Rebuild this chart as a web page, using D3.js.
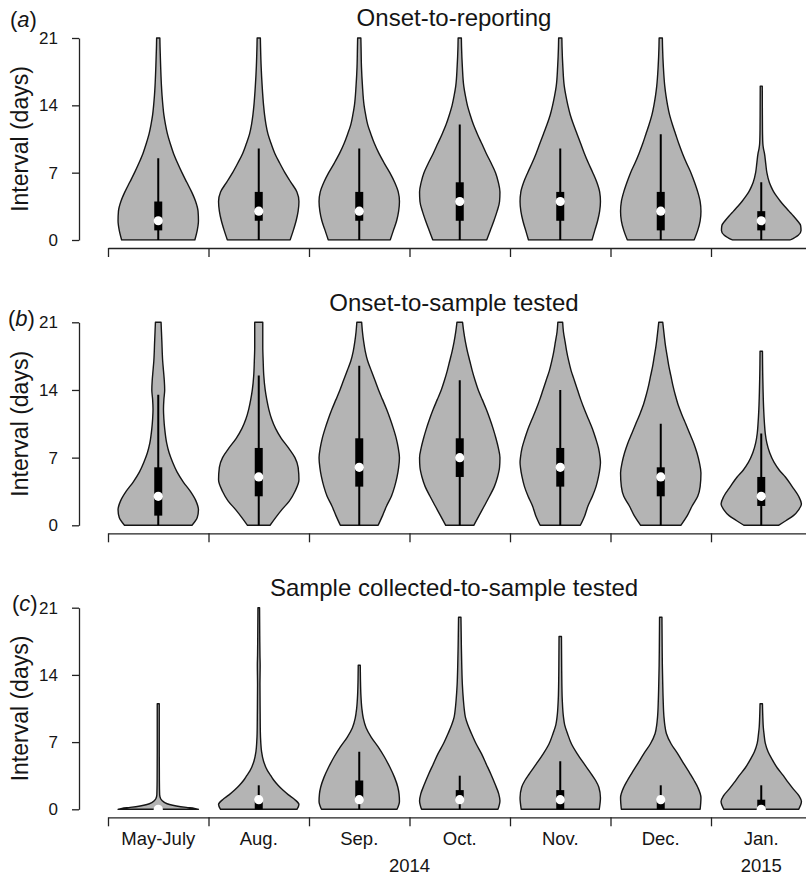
<!DOCTYPE html>
<html><head><meta charset="utf-8">
<script src="https://cdn.jsdelivr.net/npm/d3@7"></script>
<style>
body{margin:0;background:#fff}
svg{display:block}
text{font-family:"Liberation Sans",Arial,Helvetica,sans-serif;fill:#151515}
</style>
</head><body>
<svg id="chart" width="806" height="880"></svg>
<script>
// ---------- data ----------
const categories = ["May-July", "Aug.", "Sep.", "Oct.", "Nov.", "Dec.", "Jan."];
const yearLabels = ["2014", "2015"];
const yearCenters = [3.5, 7];
const yTicks = [0, 7, 14, 21];
const xTicks = [0.5, 1.5, 2.5, 3.5, 4.5, 5.5, 6.5, 7.5];
const panelTitles = ["Onset-to-reporting", "Onset-to-sample tested", "Sample collected-to-sample tested"];
const panelLetters = ["a", "b", "c"];

// violin profiles: [interval (days), relative density width]
const violinsA = [
  [[0,0.91],[1,0.97],[2,1.0],[3,0.99],[4,0.93],[5,0.83],[6,0.71],[7,0.59],[8,0.48],[9,0.38],[10,0.30],[11,0.23],[12,0.18],[13,0.14],[14,0.115],[15,0.095],[16,0.08],[18,0.06],[20,0.045],[21,0.04]],
  [[0,0.78],[1,0.86],[2,0.93],[3,0.98],[4,1.0],[5,0.95],[6,0.80],[7,0.65],[8,0.52],[9,0.40],[10,0.31],[11,0.23],[12,0.18],[13,0.145],[14,0.12],[16,0.085],[18,0.06],[20,0.045],[21,0.04]],
  [[0,0.77],[1,0.85],[2,0.93],[3,0.98],[4,1.0],[5,0.97],[6,0.88],[7,0.76],[8,0.62],[9,0.49],[10,0.38],[11,0.29],[12,0.21],[13,0.16],[14,0.12],[16,0.08],[18,0.055],[20,0.045],[21,0.04]],
  [[0,0.67],[1,0.76],[2,0.85],[3,0.93],[4,0.99],[5,1.0],[6,0.96],[7,0.89],[8,0.78],[9,0.66],[10,0.55],[11,0.44],[12,0.34],[13,0.26],[14,0.19],[15,0.14],[16,0.10],[18,0.065],[20,0.045],[21,0.04]],
  [[0,0.79],[1,0.86],[2,0.93],[3,0.98],[4,1.0],[5,0.98],[6,0.91],[7,0.81],[8,0.70],[9,0.60],[10,0.51],[11,0.42],[12,0.33],[13,0.25],[14,0.19],[15,0.14],[16,0.10],[18,0.065],[20,0.045],[21,0.04]],
  [[0,0.83],[1,0.92],[2,0.98],[3,1.0],[4,0.98],[5,0.92],[6,0.84],[7,0.75],[8,0.64],[9,0.54],[10,0.45],[11,0.37],[12,0.29],[13,0.22],[14,0.17],[15,0.13],[16,0.10],[18,0.065],[20,0.045],[21,0.04]],
  [[0,0.72],[0.5,0.92],[1,0.99],[1.5,0.98],[2,0.9],[2.5,0.8],[3,0.69],[3.5,0.58],[4,0.48],[4.5,0.39],[5,0.31],[5.5,0.25],[6,0.2],[7,0.14],[8,0.11],[9,0.08],[9.5,0.055],[10,0.04],[11,0.032],[13,0.028],[16,0.025]]
];
const violinsB = [
  [[0,0.84],[0.8,0.97],[1.6,1.0],[2.5,0.94],[3.5,0.8],[4.5,0.62],[5.5,0.47],[6.5,0.36],[7.5,0.27],[8.5,0.21],[10,0.16],[11,0.14],[12,0.13],[13,0.14],[14,0.16],[15,0.15],[16,0.13],[17,0.11],[19,0.09],[21,0.07]],
  [[0,0.28],[0.8,0.42],[1.6,0.57],[2.5,0.76],[3.5,0.9],[4.7,1.0],[6,0.98],[7,0.9],[8,0.74],[9,0.56],[10,0.42],[11,0.32],[12,0.25],[13,0.2],[14,0.16],[15.5,0.125],[17,0.11],[18.5,0.10],[21,0.1]],
  [[0,0.47],[1,0.58],[2,0.68],[3,0.8],[4,0.88],[5,0.94],[6,0.98],[7,1.0],[8,0.97],[9,0.92],[10,0.85],[11,0.77],[12,0.68],[13,0.58],[14,0.48],[15,0.39],[16,0.3],[17,0.21],[18,0.15],[19,0.11],[20,0.08],[21,0.06]],
  [[0,0.35],[1,0.48],[2,0.61],[3,0.74],[4,0.86],[5,0.94],[6,0.99],[7,1.0],[8,0.96],[9,0.9],[10,0.83],[11,0.75],[12,0.66],[13,0.56],[14,0.46],[15,0.38],[16,0.31],[17,0.25],[18,0.19],[19,0.14],[20,0.1],[21,0.07]],
  [[0,0.5],[1,0.61],[2,0.69],[3,0.8],[4,0.89],[5,0.95],[6,0.99],[6.5,1.0],[7,0.99],[8,0.95],[9,0.88],[10,0.8],[11,0.7],[12,0.6],[13,0.51],[14,0.43],[15,0.35],[16,0.27],[17,0.21],[18,0.16],[19,0.12],[20,0.08],[21,0.06]],
  [[0,0.5],[1,0.66],[2,0.78],[3,0.92],[4,0.98],[5.4,1.0],[6.5,0.96],[7.5,0.9],[8.5,0.82],[9.5,0.72],[10.5,0.62],[11.5,0.52],[12.5,0.43],[13.5,0.36],[14.5,0.3],[15.5,0.25],[16.5,0.2],[17.5,0.16],[18.5,0.12],[19.5,0.09],[21,0.05]],
  [[0,0.43],[0.5,0.62],[1,0.8],[1.6,0.93],[2.2,1.0],[3,0.93],[4,0.77],[5,0.6],[5.7,0.45],[6.5,0.32],[7.5,0.21],[8.5,0.14],[9.5,0.1],[10.5,0.08],[12,0.06],[14,0.045],[16,0.035],[18,0.03]]
];
const violinsC = [
  [[0,1.0],[0.1,0.9],[0.2,0.7],[0.35,0.45],[0.5,0.28],[0.7,0.16],[0.9,0.1],[1.1,0.06],[1.5,0.035],[3,0.028],[6,0.025],[9,0.025],[11,0.025]],
  [[0,0.95],[0.5,1.0],[1,0.9],[1.5,0.74],[2,0.6],[2.5,0.48],[3,0.38],[3.5,0.3],[4,0.22],[5,0.12],[6,0.07],[7,0.05],[8,0.04],[10,0.035],[13,0.03],[15,0.035],[16,0.03],[18,0.025],[21,0.02]],
  [[0,0.94],[0.8,1.0],[1.6,0.99],[2.3,0.96],[3.3,0.88],[4.4,0.76],[5.5,0.62],[6.5,0.47],[7.5,0.3],[8.5,0.17],[9.5,0.1],[10.5,0.065],[12,0.04],[13.5,0.03],[15,0.025]],
  [[0,0.95],[0.9,1.0],[1.6,0.97],[2.6,0.88],[3.7,0.77],[4.7,0.66],[5.8,0.54],[6.8,0.41],[7.9,0.29],[8.8,0.2],[9.6,0.14],[10.5,0.11],[11.4,0.09],[13,0.065],[15,0.05],[17,0.04],[20,0.03]],
  [[0,0.97],[1.2,1.0],[2.3,0.96],[3,0.88],[3.7,0.77],[4.7,0.6],[5.8,0.42],[6.8,0.28],[7.9,0.18],[8.8,0.11],[9.6,0.08],[11.4,0.05],[13,0.04],[15,0.035],[18,0.03]],
  [[0,0.98],[1.2,1.0],[2.3,0.92],[3,0.83],[3.7,0.73],[4.7,0.58],[5.8,0.42],[6.8,0.26],[7.9,0.14],[8.8,0.1],[9.6,0.08],[11.4,0.06],[13,0.05],[15,0.04],[17,0.035],[20,0.03]],
  [[0,0.93],[0.8,1.0],[1.4,0.94],[2.1,0.8],[2.8,0.67],[3.5,0.55],[4.3,0.4],[5.2,0.27],[6,0.17],[6.9,0.1],[7.8,0.07],[8.6,0.05],[9.5,0.04],[11,0.03]]
];
// box statistics: [lower whisker, Q1, median, Q3, upper whisker]
const statsA = [[0,1,2,4,8.5],[0,2,3,5,9.5],[0,2,3,5,9.5],[0,2,4,6,12],[0,2,4,5,9.5],[0,1,3,5,11],[0,1,2,3,6]];
const statsB = [[0,1,3,6,13.5],[0,3,5,8,15.5],[0,4,6,9,16.5],[0,5,7,9,15],[0,4,6,8,14],[0,3,5,6,10.5],[0,2,3,5,9.5]];
const statsC = [[0,0,0,0,0],[0,0,1,1,2.5],[0,1,1,3,6],[0,1,1,2,3.5],[0,0,1,2,5],[0,0,1,1,2.5],[0,0,0,1,2.5]];

// ---------- layout ----------
const svg = d3.select("#chart");
const panelTop = [38, 322.3, 607.7];
const panelBottom = [240, 525.3, 809.3];
const x = d3.scaleLinear().domain([0.5, 7.5]).range([108, 811.5]);
const halfW = (x(1) - x(0)) * 0.4;
const fillGrey = "#b4b4b4";
const ink = "#151515";

const panels = [
  {violins: violinsA, stats: statsA},
  {violins: violinsB, stats: statsB},
  {violins: violinsC, stats: statsC}
];

panels.forEach((p, pi) => {
  const y = d3.scaleLinear().domain([0, 21]).range([panelBottom[pi], panelTop[pi]]);
  const g = svg.append("g");

  // clip at the plot region (y = 0)
  const clipId = "clip" + pi;
  svg.append("clipPath").attr("id", clipId).append("rect")
    .attr("x", 80).attr("y", panelTop[pi] - 20)
    .attr("width", 740).attr("height", panelBottom[pi] - panelTop[pi] + 20.8);
  const plot = g.append("g").attr("clip-path", `url(#${clipId})`);

  p.violins.forEach((prof, i) => {
    const cx = x(i + 1);
    const area = d3.area()
      .curve(d3.curveMonotoneY)
      .y(d => y(d[0]))
      .x0(d => cx - halfW * d[1])
      .x1(d => cx + halfW * d[1]);
    plot.append("path").attr("d", area(prof))
      .attr("fill", fillGrey).attr("stroke", ink).attr("stroke-width", 1.4)
      .attr("stroke-linejoin", "round");
    const [lo, q1, med, q3, hi] = p.stats[i];
    if (hi > lo) {
      plot.append("line").attr("x1", cx).attr("x2", cx)
        .attr("y1", y(lo)).attr("y2", y(hi))
        .attr("stroke", "#000").attr("stroke-width", 2);
    }
    if (q3 > q1) {
      plot.append("rect").attr("x", cx - 4).attr("width", 8)
        .attr("y", y(q3)).attr("height", y(q1) - y(q3)).attr("fill", "#000");
    }
    plot.append("circle").attr("cx", cx).attr("cy", y(med)).attr("r", 4.6)
      .attr("fill", "#fff");
  });

  // y axis
  const ya = g.append("g").attr("transform", "translate(79,0)")
    .call(d3.axisLeft(y).tickValues(yTicks).tickSize(7).tickSizeOuter(0).tickPadding(14).tickFormat(d3.format("d")));
  ya.selectAll("path,line").attr("stroke", "#222").attr("stroke-width", 1.3);
  ya.selectAll("text").attr("font-size", "17px").attr("fill", ink)
    .attr("font-family", '"Liberation Sans",Arial,sans-serif');

  // x axis
  const xa = g.append("g").attr("transform", `translate(0,${panelBottom[pi] + 8})`)
    .call(d3.axisBottom(x).tickValues(xTicks).tickSize(9).tickSizeOuter(0).tickFormat(""));
  xa.selectAll("path,line").attr("stroke", "#222").attr("stroke-width", 1.3);

  // y label
  const yc = (panelTop[pi] + panelBottom[pi]) / 2;
  g.append("text").attr("transform", `translate(28,${yc}) rotate(-90)`)
    .attr("text-anchor", "middle").attr("font-size", "23px").text("Interval (days)");

  // title
  g.append("text").attr("x", 454).attr("y", panelTop[pi] - 11.7)
    .attr("text-anchor", "middle").attr("font-size", "24px").text(panelTitles[pi]);
});

// panel letters
const letterPos = [[10, 27], [8, 326], [12, 611]];
panelLetters.forEach((l, i) => {
  const t = svg.append("text").attr("x", letterPos[i][0]).attr("y", letterPos[i][1]).attr("font-size", "22px");
  t.append("tspan").text("(");
  t.append("tspan").attr("font-style", "italic").text(l);
  t.append("tspan").text(")");
});

// category labels (bottom panel)
svg.append("g").selectAll("text").data(categories).join("text")
  .attr("x", (d, i) => x(i + 1)).attr("y", 845)
  .attr("text-anchor", "middle").attr("font-size", "18.5px").text(d => d);
svg.append("g").selectAll("text").data(yearLabels).join("text")
  .attr("x", (d, i) => x(yearCenters[i])).attr("y", 871.5)
  .attr("text-anchor", "middle").attr("font-size", "18.5px").text(d => d);
</script>
</body></html>
